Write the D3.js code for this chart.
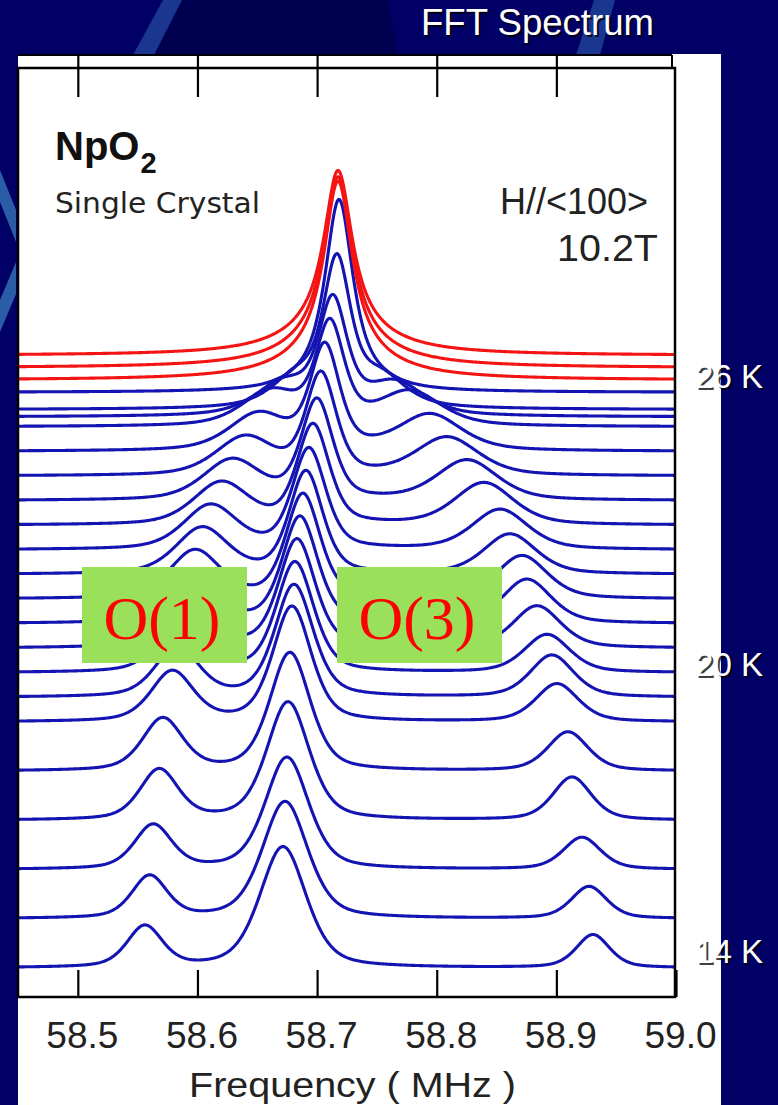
<!DOCTYPE html>
<html>
<head>
<meta charset="utf-8">
<script src="https://cdn.jsdelivr.net/npm/d3@7"></script>
<style>
body { margin: 0; background: #000066; }
svg { display: block; }
</style>
</head>
<body>
<svg id="chart" width="778" height="1105"></svg>
<script>
// temperatures of the stacked spectra (K), bottom to top
var temps = [14, 15, 16, 17, 18, 19, 19.5, 20, 20.5, 21, 21.5, 22, 22.5, 23, 23.5, 24, 24.5, 25, 25.2, 25.35, 25.7, 25.95, 26.2, 26.45];
// O(1) line: centre (MHz), height (a.u.), FWHM (kHz)
var o1Pos = [58.556, 58.560, 58.563, 58.568, 58.571, 58.579, 58.583, 58.586, 58.590, 58.594, 58.598, 58.604, 58.611, 58.620, 58.629, 58.640, 58.651, 58.662, 58.673, 58.684, 58.702, 58.700, 58.700, 58.700];
var o1Amp = [20.5, 21, 22, 25, 26, 25, 25, 25, 25, 25, 24, 23, 22, 21, 20, 19, 18, 17, 16, 15, 8, 6, 6, 6];
var o1Wid = [35, 35, 37, 38, 40, 42, 43, 45, 47, 48, 50, 52, 53, 55, 57, 58, 58, 58, 58, 50, 50, 90, 90, 90];
// central line
var o2Pos = [58.6715, 58.6732, 58.6748, 58.6757, 58.6773, 58.6790, 58.6807, 58.6815, 58.6832, 58.6857, 58.6882, 58.6907, 58.6932, 58.6966, 58.6999, 58.7033, 58.7066, 58.7108, 58.7133, 58.7166, 58.7183, 58.7175, 58.7175, 58.7175];
var o2Amp = [60.5, 58.5, 56, 59, 59, 57.5, 56, 55, 54, 53, 52, 51, 50, 49.5, 49.5, 50, 51, 49, 53.5, 68.5, 85, 90, 86, 83];
var o2Wid = [46, 45, 43, 42, 40, 38, 38, 37, 36, 35, 34, 33, 33, 32, 31, 30, 29, 28, 28, 27, 26, 29, 29, 29];
// O(3) line
var o3Pos = [58.9306, 58.9273, 58.9214, 58.9131, 58.9097, 58.9005, 58.8963, 58.8922, 58.8838, 58.8754, 58.8713, 58.8612, 58.8529, 58.8395, 58.8253, 58.8086, 58.7944, 58.7776, 58.7651, 58.7526, 58.7342, 58.735, 58.735, 58.735];
var o3Amp = [16.5, 16, 16, 21.5, 19.5, 19, 21, 19, 21, 22, 21.5, 20, 20, 21, 20, 19, 18, 17, 16, 15, 8, 5, 5, 5];
var o3Wid = [33, 35, 37, 38, 40, 42, 43, 45, 47, 48, 50, 52, 55, 58, 60, 62, 62, 62, 58, 50, 50, 90, 90, 90];
// Lorentzian fraction of the line shape
var lorFrac = [0.45, 0.45, 0.45, 0.45, 0.45, 0.45, 0.45, 0.45, 0.45, 0.45, 0.45, 0.45, 0.45, 0.45, 0.45, 0.45, 0.5, 0.5, 0.55, 0.6, 0.7, 1, 1, 1];

var freqTicks = [58.5, 58.6, 58.7, 58.8, 58.9, 59.0];
var tempLabels = [14, 20, 26];
var siteLabels = ["O(1)", "O(3)"];

var svg = d3.select("#chart");

// slide decoration
var deco = svg.append("g");
deco.append("polygon").attr("points", "182,0 388,0 398,55 154,55").attr("fill", "#000050");
deco.append("polygon").attr("points", "133,55 154,55 182,0 163,0").attr("fill", "#21449a").attr("opacity", 0.8);
deco.append("polygon").attr("points", "576,55 600,55 615,0 594,0").attr("fill", "#21449a").attr("opacity", 0.8);
deco.append("polygon").attr("points", "0,170 0,202 16,242 16,210").attr("fill", "#2b5ca6");
deco.append("polygon").attr("points", "16,262 16,294 0,332 0,300").attr("fill", "#2b5ca6");

// white plot panel
svg.append("rect").attr("x", 18).attr("y", 54).attr("width", 703).attr("height", 1051).attr("fill", "#fff");

var x = d3.scaleLinear().domain([58.45, 59.0]).range([18, 676]);
var yT = d3.scaleLinear().domain([14, 26]).range([968, 377.6]);
var yI = d3.scaleLinear().domain([0, 100]).range([0, 200]);
var yLab = d3.scaleLinear().domain([14, 26]).range([963, 388]);

function pv(f, c, a, w, eta) {
	if (!a) return 0;
	var d = (f - c) / (w / 2000);
	return a * (eta / (1 + d * d) + (1 - eta) * Math.exp(-Math.LN2 * d * d));
}

var grid = d3.range(0, 551).map(function (i) { return 58.45 + i * 0.001; });

var traces = temps.map(function (t, i) {
	return {
		t: t,
		red: lorFrac[i] == 1,
		pts: grid.map(function (f) {
			var s = pv(f, o1Pos[i], o1Amp[i], o1Wid[i], lorFrac[i]) +
				pv(f, o2Pos[i], o2Amp[i], o2Wid[i], lorFrac[i]) +
				pv(f, o3Pos[i], o3Amp[i], o3Wid[i], lorFrac[i]);
			return [f, s];
		})
	};
});

var line = d3.line()
	.x(function (d) { return x(d[0]); });

var gTr = svg.append("g");
traces.forEach(function (tr) {
	gTr.append("path")
		.attr("d", line.y(function (d) { return yT(tr.t) - yI(d[1]); })(tr.pts))
		.attr("fill", "none")
		.attr("stroke", tr.red ? "#f51414" : "#1414b2")
		.attr("stroke-width", 3.1)
		.attr("stroke-linejoin", "round");
});

// frame
var frame = svg.append("g").attr("stroke", "#000").attr("fill", "none");
frame.append("rect").attr("x", 18).attr("y", 68).attr("width", 657).attr("height", 929).attr("stroke-width", 2.5);
frame.append("line").attr("x1", 18).attr("x2", 672).attr("y1", 55).attr("y2", 55).attr("stroke-width", 2);
frame.append("line").attr("x1", 672).attr("x2", 672).attr("y1", 55).attr("y2", 68).attr("stroke-width", 2);

var gTop = svg.append("g").attr("transform", "translate(0,55)")
	.call(d3.axisTop(x).tickValues(freqTicks.slice(0, 5)).tickSize(-42).tickSizeOuter(0).tickFormat(""));
gTop.select(".domain").remove();
gTop.selectAll("line").attr("stroke", "#000").attr("stroke-width", 2.2);

var gBot = svg.append("g").attr("transform", "translate(0,997)")
	.call(d3.axisBottom(x).tickValues(freqTicks).tickSize(-27).tickSizeOuter(0).tickPadding(25).tickFormat(d3.format(".1f")));
gBot.select(".domain").remove();
gBot.selectAll("line").attr("stroke", "#000").attr("stroke-width", 2.2);
gBot.selectAll("text")
	.attr("x", 4)
	.attr("fill", "#222")
	.style("font-family", "'Liberation Sans', Arial, sans-serif")
	.style("font-size", "37px");

svg.append("text").attr("x", 189).attr("y", 1097)
	.attr("textLength", 327).attr("lengthAdjust", "spacingAndGlyphs")
	.attr("fill", "#222").style("font-family", "'Liberation Sans', Arial, sans-serif").style("font-size", "35px")
	.text("Frequency ( MHz )");

// labels inside the panel
var ff = "'DejaVu Sans', 'Liberation Sans', sans-serif";
var np = svg.append("text").attr("x", 55).attr("y", 160).attr("fill", "#111")
	.style("font-family", "'Liberation Sans', Arial, sans-serif").style("font-weight", "bold").style("font-size", "40px");
np.append("tspan").text("NpO");
np.append("tspan").attr("dx", 1).attr("dy", 13).style("font-size", "29px").text("2");

svg.append("text").attr("x", 55).attr("y", 213).attr("textLength", 205).attr("lengthAdjust", "spacingAndGlyphs")
	.attr("fill", "#222").style("font-family", ff).style("font-size", "28px").text("Single Crystal");
svg.append("text").attr("x", 500).attr("y", 214).attr("textLength", 148).attr("lengthAdjust", "spacingAndGlyphs")
	.attr("fill", "#222").style("font-family", "'Liberation Sans', Arial, sans-serif").style("font-size", "37px").text("H//<100>");
svg.append("text").attr("x", 557).attr("y", 261).attr("textLength", 101).attr("lengthAdjust", "spacingAndGlyphs")
	.attr("fill", "#222").style("font-family", "'Liberation Sans', Arial, sans-serif").style("font-size", "37px").text("10.2T");

// site labels on green boxes
var boxX = [82, 337];
siteLabels.forEach(function (s, i) {
	svg.append("rect").attr("x", boxX[i]).attr("y", 567).attr("width", 165).attr("height", 96).attr("fill", "#9ae05b");
	svg.append("text").attr("x", boxX[i] + 80).attr("y", 639).attr("text-anchor", "middle")
		.attr("fill", "#ff0000").style("font-family", "'Liberation Serif', 'Times New Roman', serif").style("font-size", "62px")
		.text(s);
});

// white slide texts with shadow
function slideText(str, xx, yy, size, len) {
	[["#000", 2, 0.75], ["#fff", 0, 1]].forEach(function (s) {
		svg.append("text").attr("x", xx + s[1]).attr("y", yy + s[1])
			.attr("textLength", len).attr("lengthAdjust", "spacingAndGlyphs")
			.attr("fill", s[0]).attr("opacity", s[2])
			.style("font-family", "'Liberation Sans', Arial, sans-serif").style("font-size", size + "px")
			.text(str);
	});
}
slideText("FFT Spectrum", 421, 35, 36, 233);
tempLabels.forEach(function (t) {
	slideText(t + " K", 695, yLab(t), 34, 68);
});
</script>
</body>
</html>
